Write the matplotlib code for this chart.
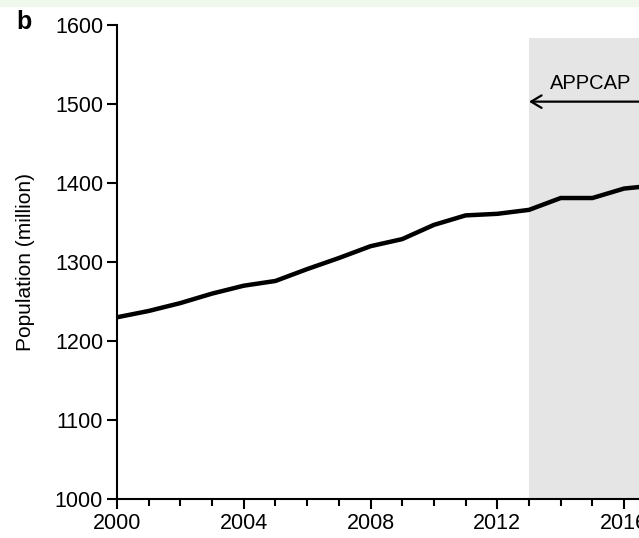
import matplotlib
matplotlib.use('Agg')
import matplotlib.pyplot as plt
from matplotlib.patches import Rectangle
from matplotlib.ticker import MultipleLocator

plt.rcParams['font.family'] = ['Liberation Sans', 'DejaVu Sans']

# population of the study region, million
years = [2000, 2001, 2002, 2003, 2004, 2005, 2006, 2007, 2008,
         2009, 2010, 2011, 2012, 2013, 2014, 2015, 2016, 2017]
population = [1230, 1238, 1248, 1260, 1270, 1276, 1291, 1305, 1320,
              1329, 1347, 1359, 1361, 1366, 1381, 1381, 1393, 1397]
appcap_start = 2013
x_ticks = [2000, 2004, 2008, 2012, 2016]
y_ticks = [1000, 1100, 1200, 1300, 1400, 1500, 1600]

fig = plt.figure(figsize=(6.39, 5.38), dpi=100)
fig.patches.append(Rectangle((0, 0.989), 1, 0.011, transform=fig.transFigure,
                             color='#f0f7ec', zorder=0))
ax = fig.add_axes([0.183, 0.0725, 0.817, 0.881])

ax.axvspan(appcap_start, 2030, ymax=0.973, color='#e5e5e5', lw=0, zorder=0)
ax.plot(years, population, color='black', lw=3.2, solid_joinstyle='miter', zorder=3)

ax.annotate('', xy=(appcap_start, 1503), xytext=(2017, 1503),
            arrowprops=dict(arrowstyle='->,head_length=0.75,head_width=0.45',
                            color='black', lw=1.6, shrinkA=0, shrinkB=0))
ax.text(2013.65, 1519, 'APPCAP', fontsize=14.5, ha='left', va='baseline')

ax.set_xlim(2000, 2016.47)
ax.set_ylim(1000, 1600)
ax.set_xticks(x_ticks)
ax.set_yticks(y_ticks)
ax.xaxis.set_minor_locator(MultipleLocator(1))
ax.tick_params(axis='both', which='major', direction='out', length=7, width=1.5,
               labelsize=15.5, color='black', pad=3)
ax.tick_params(axis='x', which='minor', direction='out', length=5, width=1.5)
for side in ['top', 'right']:
    ax.spines[side].set_visible(False)
for side in ['left', 'bottom']:
    ax.spines[side].set_linewidth(1.5)
ax.set_ylabel('Population (million)', fontsize=15, labelpad=14)

fig.text(0.025, 0.96, 'b', fontsize=18, fontweight='bold', ha='left', va='center')

fig.savefig('out.png', dpi=100)
